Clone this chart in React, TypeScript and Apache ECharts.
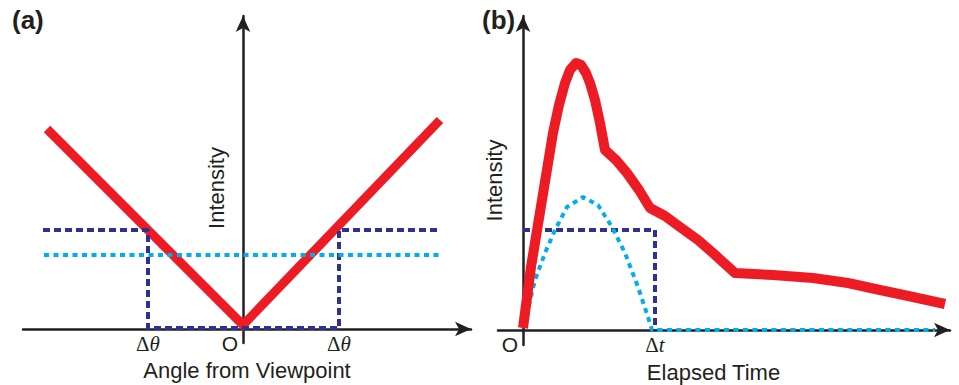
import React, { useEffect, useRef } from "react";
import * as echarts from "echarts";

// ---------- Panel (a): angle from viewpoint ----------
const angleTickValues = [-95, -13, 96];
const angleTickLabels = ["Δθ", "O", "Δθ"];
const angleRedX = [-196, 0, 197];
const angleRedY = [200, 4, 209];
const angleNavyX = [-200, -95, -95, 96, 96, 198];
const angleNavyY = [99, 99, 1, 1, 99, 99];
const angleCyanX = [-199, 198];
const angleCyanY = [74, 74];

// ---------- Panel (b): elapsed time ----------
const timeTickValues = [-13, 132];
const timeTickLabels = ["O", "Δt"];
const timeRedX = [0, 8, 19, 30, 36, 42, 47, 53, 58, 63, 67, 72, 77, 82, 93, 104, 116, 127, 142, 157, 175, 190, 212, 250, 290, 325, 357, 390, 422];
const timeRedY = [2, 63, 130, 197, 225, 247, 260, 267, 265, 257, 247, 230, 207, 180, 170, 157, 140, 122, 114, 103, 90, 77, 57, 55, 52, 47, 40, 33, 26];
const timeNavyX = [0, 132, 132];
const timeNavyY = [100, 100, 0];
const timeCyanX = [2, 6, 12, 22, 32, 44, 60, 75, 89, 102, 115, 125, 129, 412];
const timeCyanY = [5, 25, 50, 77, 100, 123, 133, 125, 103, 77, 43, 13, 0, 0];

const zip = (xs: number[], ys: number[]) => xs.map((x, i) => [x, ys[i]]);

const INK = "#231f20";
const RED = "#ed1c24";
const NAVY = "#2e3192";
const CYAN = "#00aeef";
const SANS = "Liberation Sans, Arial, sans-serif";
const SERIF = "Liberation Serif, Times New Roman, serif";

const tickRich = {
  d: { fontFamily: SERIF, fontSize: 21, color: INK },
  i: { fontFamily: SERIF, fontSize: 21, fontStyle: "italic", color: INK },
  o: { fontFamily: SANS, fontSize: 21, color: INK },
};

const fmtTick = (values: number[], labels: string[]) => (v: number) => {
  const idx = values.findIndex((x) => Math.abs(x - v) < 1e-6);
  const t = idx >= 0 ? labels[idx] : "";
  if (t === "O") return "{o|O}";
  if (t.startsWith("Δ")) return `{d|Δ}{i|${t.slice(1)}}`;
  return t;
};

const axisLine = {
  onZero: true,
  symbol: ["none", "arrow"],
  symbolSize: [11, 16],
  lineStyle: { color: INK, width: 2.5 },
};

const nameStyle = { fontFamily: SANS, fontSize: 22, color: INK };

export default function App() {
  const ref = useRef<HTMLDivElement>(null);
  useEffect(() => {
    if (!ref.current) return;
    const chart = echarts.init(ref.current, undefined, { renderer: "svg" });
    const lineBase = { type: "line", showSymbol: false, symbol: "none", silent: true };
    chart.setOption({
      animation: false,
      backgroundColor: "#ffffff",
      title: [
        { text: "(a)", left: 12, top: 7, padding: 0, textStyle: { fontFamily: SANS, fontSize: 26, fontWeight: "bold", color: INK } },
        { text: "(b)", left: 482, top: 7, padding: 0, textStyle: { fontFamily: SANS, fontSize: 26, fontWeight: "bold", color: INK } },
      ],
      grid: [
        { left: 23, right: 488, top: 16, bottom: 42, containLabel: false, outerBoundsMode: "none" },
        { left: 498, right: 9, top: 16, bottom: 40, containLabel: false, outerBoundsMode: "none" },
      ],
      xAxis: [
        {
          gridIndex: 0,
          type: "value",
          min: -220,
          max: 228,
          axisLine,
          axisTick: { show: false },
          splitLine: { show: false },
          axisLabel: {
            customValues: angleTickValues,
            margin: -10,
            formatter: fmtTick(angleTickValues, angleTickLabels),
            rich: tickRich,
          },
          name: "Angle from Viewpoint",
          nameLocation: "middle",
          nameGap: 16,
          nameTextStyle: nameStyle,
        },
        {
          gridIndex: 1,
          type: "value",
          min: -25,
          max: 427,
          axisLine,
          axisTick: { show: false },
          splitLine: { show: false },
          axisLabel: {
            customValues: timeTickValues,
            margin: -11,
            formatter: fmtTick(timeTickValues, timeTickLabels),
            rich: tickRich,
          },
          name: "Elapsed Time",
          nameLocation: "middle",
          nameGap: 16,
          nameTextStyle: { ...nameStyle, padding: [0, 21, 0, 0] },
        },
      ],
      yAxis: [
        {
          gridIndex: 0,
          type: "value",
          min: -14,
          max: 313,
          axisLine,
          axisTick: { show: false },
          splitLine: { show: false },
          axisLabel: { show: false },
          name: "Intensity",
          nameLocation: "middle",
          nameGap: -204,
          nameTextStyle: { ...nameStyle, padding: [0, 17, 0, 0] },
        },
        {
          gridIndex: 1,
          type: "value",
          min: -15,
          max: 314,
          axisLine,
          axisTick: { show: false },
          splitLine: { show: false },
          axisLabel: { show: false },
          name: "Intensity",
          nameLocation: "middle",
          nameGap: -7,
          nameTextStyle: nameStyle,
        },
      ],
      series: [
        {
          ...lineBase,
          name: "Intensity (a)",
          xAxisIndex: 0,
          yAxisIndex: 0,
          data: zip(angleRedX, angleRedY),
          lineStyle: { color: RED, width: 9, cap: "butt", join: "miter" },
          z: 2,
        },
        {
          ...lineBase,
          name: "Δθ window",
          xAxisIndex: 0,
          yAxisIndex: 0,
          data: zip(angleNavyX, angleNavyY),
          lineStyle: { color: NAVY, width: 4, type: [7, 4], cap: "butt" },
          z: 3,
        },
        {
          ...lineBase,
          name: "Average (a)",
          xAxisIndex: 0,
          yAxisIndex: 0,
          data: zip(angleCyanX, angleCyanY),
          lineStyle: { color: CYAN, width: 4, type: [5, 4.5], cap: "butt" },
          z: 4,
        },
        {
          ...lineBase,
          name: "Δt window",
          xAxisIndex: 1,
          yAxisIndex: 1,
          data: zip(timeNavyX, timeNavyY),
          lineStyle: { color: NAVY, width: 4, type: [7, 4], cap: "butt" },
          z: 2,
        },
        {
          ...lineBase,
          name: "Average (b)",
          xAxisIndex: 1,
          yAxisIndex: 1,
          data: zip(timeCyanX, timeCyanY),
          lineStyle: { color: CYAN, width: 4, type: [5, 4.5], cap: "butt" },
          z: 3,
        },
        {
          ...lineBase,
          name: "Intensity (b)",
          xAxisIndex: 1,
          yAxisIndex: 1,
          data: zip(timeRedX, timeRedY),
          lineStyle: { color: RED, width: 10, cap: "butt", join: "round" },
          z: 4,
        },
      ],
    });
    return () => chart.dispose();
  }, []);
  return (
    <div
      ref={ref}
      style={{ position: "fixed", left: 0, top: 0, width: 959, height: 385, background: "#fff" }}
    />
  );
}
